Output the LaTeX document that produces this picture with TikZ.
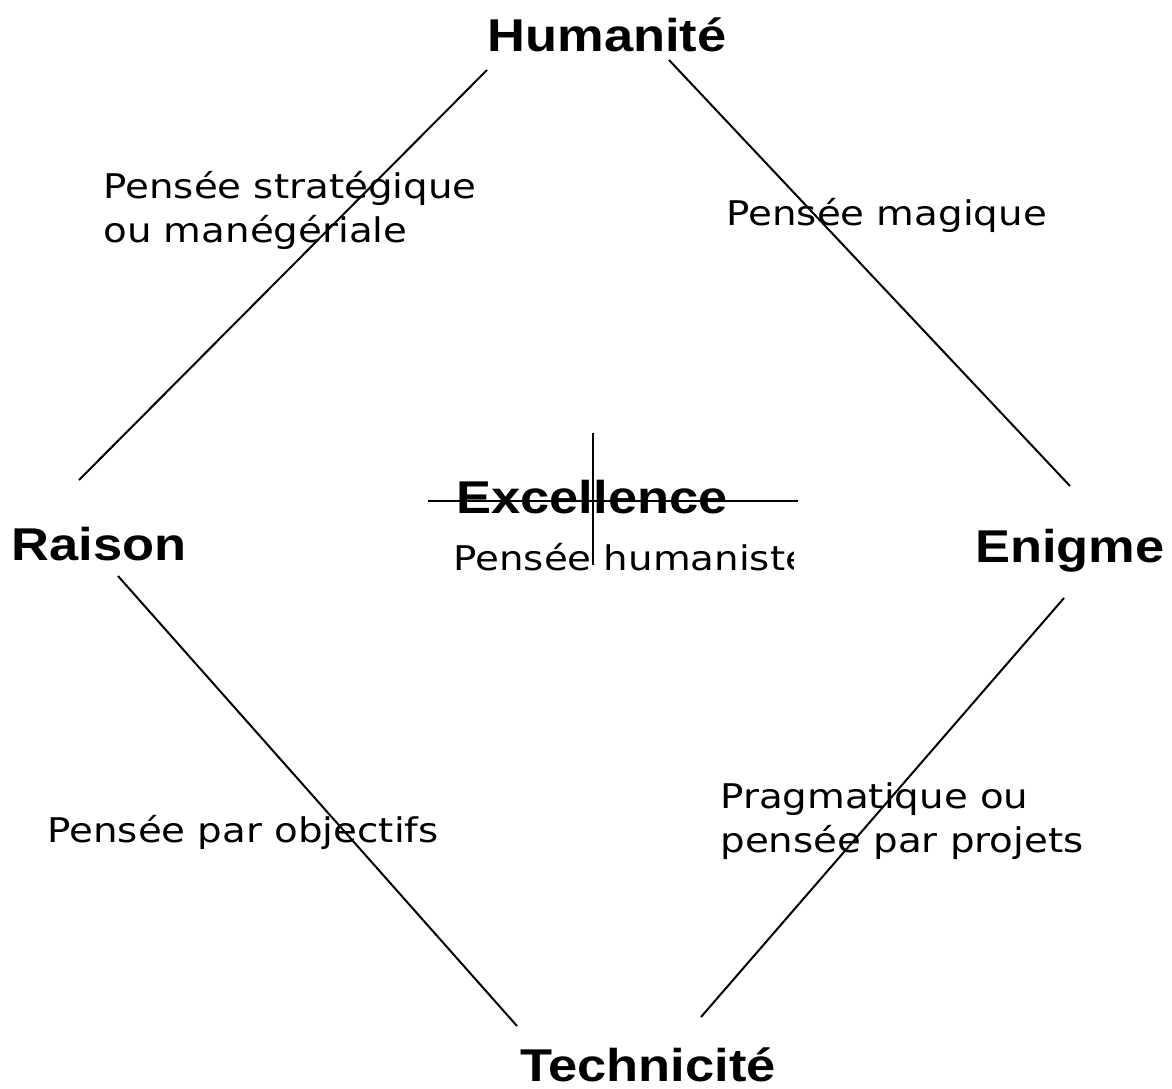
\documentclass[tikz,border=0pt]{standalone}
\usepackage{fontspec}
\newfontfamily\headfont{Liberation Sans}
\newfontfamily\notefont{DejaVu Sans}
\newcommand{\wide}[1]{\scalebox{1.14}[1]{#1}}

\begin{document}
\begin{tikzpicture}[x=0.5pt,y=-0.5pt,
		pole/.style={inner sep=0pt,anchor=base,font=\headfont\bfseries\fontsize{23}{27}\selectfont},
		note/.style={inner sep=0pt,anchor=base west,font=\notefont\fontsize{17}{22}\selectfont},
		edge/.style={line width=1pt},
		cross/.style={line width=0.8pt}]
		\useasboundingbox (0,0) rectangle (1172,1088);

		% the four poles and the centre
		\draw (607,51) node[pole] (hum) {\wide{Humanit\'e}}
		(99,560) node[pole] (rai) {\wide{Raison}}
		(1070,562) node[pole] (eni) {\wide{Enigme}}
		(648,1081) node[pole] (tec) {\wide{Technicit\'e}}
		(592,513) node[pole] (exc) {\wide{Excellence}};

		% side labels
		\draw (103,198) node[note] (strat) {\wide{\begin{tabular}[t]{@{}l@{}}Pens\'ee strat\'egique\\ou man\'eg\'eriale\end{tabular}}}
		(726,225) node[note] (magi) {\wide{Pens\'ee magique}}
		(47,842) node[note] (obje) {\wide{Pens\'ee par objectifs}}
		(720,808) node[note] (prag) {\wide{\begin{tabular}[t]{@{}l@{}}Pragmatique ou\\pens\'ee par projets\end{tabular}}};
		\begin{scope}
			\clip (440,520) rectangle (793,600);
			\node[note] (huma) at (453,570) {\wide{Pens\'ee humaniste}};
		\end{scope}

		% line ends near the poles
		\coordinate (hum-w) at (487,70);
		\coordinate (hum-e) at (669,60);
		\coordinate (rai-n) at (79,480);
		\coordinate (rai-s) at (118,576);
		\coordinate (eni-n) at (1070,486);
		\coordinate (eni-s) at (1064,598);
		\coordinate (tec-w) at (517,1026);
		\coordinate (tec-e) at (701,1017);
		\coordinate (exc-w) at (428,501);
		\coordinate (exc-e) at (798,501);
		\coordinate (exc-n) at (593,433);
		\coordinate (exc-s) at (593,565);

		\draw[edge] (hum-w) -- (rai-n);
		\draw[edge] (hum-e) -- (eni-n);
		\draw[edge] (rai-s) -- (tec-w);
		\draw[edge] (eni-s) -- (tec-e);
		\draw[cross] (exc-w) -- (exc-e);
		\draw[cross] (exc-n) -- (exc-s);
	\end{tikzpicture}
\end{document}
